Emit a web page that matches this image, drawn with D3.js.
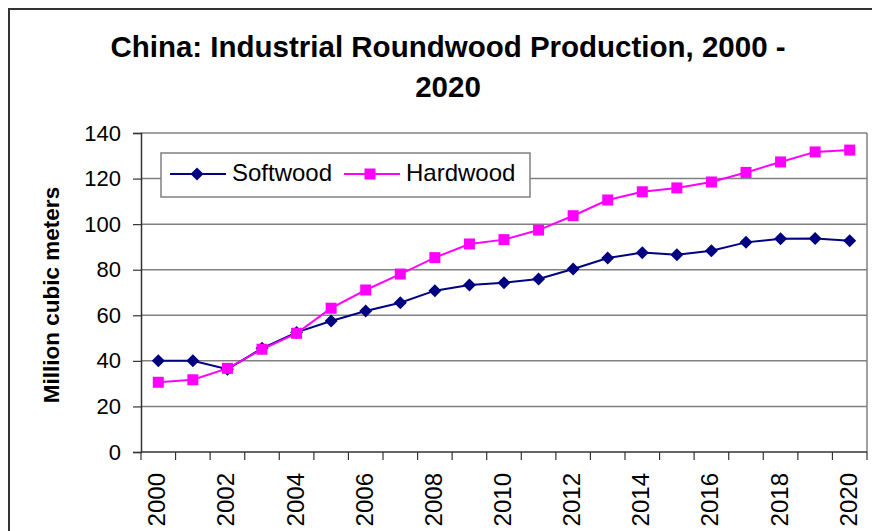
<!DOCTYPE html>
<html>
<head>
<meta charset="utf-8">
<script src="https://cdn.jsdelivr.net/npm/d3@7"></script>
<style>
  body { margin: 0; background: #fff; }
  svg { display: block; font-family: Arial, "Liberation Sans", sans-serif; }
</style>
</head>
<body>
<svg id="chart"></svg>
<script>
// chart data
const years = d3.range(2000, 2021);
const softwood = [40, 40, 36.3, 45.5, 52.5, 57.5, 61.9, 65.5, 70.8, 73.3, 74.3,
                  75.9, 80.3, 85.1, 87.5, 86.6, 88.3, 92.0, 93.6, 93.7, 92.7];
const hardwood = [30.6, 31.7, 36.7, 45.1, 52.1, 63.1, 71.1, 78.1, 85.3, 91.3, 93.2,
                  97.4, 103.7, 110.6, 114.2, 115.9, 118.5, 122.7, 127.3, 131.7, 132.5];
const y_ticks = [0, 20, 40, 60, 80, 100, 120, 140];
const x_labels = [2000, 2002, 2004, 2006, 2008, 2010, 2012, 2014, 2016, 2018, 2020];
const series_names = ["Softwood", "Hardwood"];

const width = 872, height = 531;
const plot = {left: 141, right: 867, top: 133, bottom: 452};

const svg = d3.select("#chart")
    .attr("width", width)
    .attr("height", height);

// outer frame
svg.append("rect")
    .attr("x", 9).attr("y", 9)
    .attr("width", width).attr("height", height)
    .attr("fill", "none")
    .attr("stroke", "#333")
    .attr("stroke-width", 2);

// title
const title = svg.append("text")
    .attr("text-anchor", "middle")
    .attr("font-weight", "bold")
    .attr("font-size", 29.5)
    .attr("fill", "#000");
title.append("tspan").attr("x", 448).attr("y", 57).text("China: Industrial Roundwood Production, 2000 -");
title.append("tspan").attr("x", 448).attr("y", 97).text("2020");

// scales
const x = d3.scaleBand()
    .domain(years)
    .range([plot.left, plot.right])
    .padding(0);
const y = d3.scaleLinear()
    .domain([0, 140])
    .range([plot.bottom, plot.top]);

// gridlines
svg.append("g")
    .selectAll("line")
    .data(y_ticks.filter(d => d > 0))
    .join("line")
    .attr("x1", plot.left).attr("x2", plot.right)
    .attr("y1", d => y(d)).attr("y2", d => y(d))
    .attr("stroke", "#808080")
    .attr("stroke-width", 1.5);

// plot area right border
svg.append("line")
    .attr("x1", plot.right).attr("x2", plot.right)
    .attr("y1", plot.top).attr("y2", plot.bottom)
    .attr("stroke", "#808080")
    .attr("stroke-width", 1.5);

// y axis
const y_axis = svg.append("g")
    .attr("transform", `translate(${plot.left},0)`)
    .call(d3.axisLeft(y).tickValues(y_ticks).tickSize(8).tickPadding(12));
y_axis.select(".domain").attr("stroke", "#333").attr("stroke-width", 1.5);
y_axis.selectAll(".tick line").attr("stroke", "#333").attr("stroke-width", 1.2);
y_axis.selectAll(".tick text")
    .attr("font-size", 22)
    .attr("font-family", "Arial, 'Liberation Sans', sans-serif")
    .attr("fill", "#000");

// x axis: ticks at category boundaries
const boundaries = d3.range(years.length + 1).map(i => plot.left + i * x.bandwidth());
svg.append("g")
    .selectAll("line")
    .data(boundaries)
    .join("line")
    .attr("x1", d => d).attr("x2", d => d)
    .attr("y1", plot.bottom).attr("y2", plot.bottom + 8)
    .attr("stroke", "#333")
    .attr("stroke-width", 1.2);
svg.append("line")
    .attr("x1", plot.left).attr("x2", plot.right)
    .attr("y1", plot.bottom).attr("y2", plot.bottom)
    .attr("stroke", "#333")
    .attr("stroke-width", 1.5);

svg.append("g")
    .selectAll("text")
    .data(x_labels)
    .join("text")
    .attr("transform", d => `translate(${x(d) + x.bandwidth() / 2 + 7},473) rotate(-90)`)
    .attr("text-anchor", "end")
    .attr("font-size", 24)
    .attr("fill", "#000")
    .text(d => d);

// y axis title
svg.append("text")
    .attr("transform", "translate(59,295) rotate(-90)")
    .attr("text-anchor", "middle")
    .attr("font-weight", "bold")
    .attr("font-size", 22.5)
    .attr("fill", "#000")
    .text("Million cubic meters");

// lines
const line = d3.line()
    .x((d, i) => x(years[i]) + x.bandwidth() / 2)
    .y(d => y(d));

svg.append("path")
    .attr("d", line(softwood))
    .attr("fill", "none")
    .attr("stroke", "#000080")
    .attr("stroke-width", 2);
svg.append("path")
    .attr("d", line(hardwood))
    .attr("fill", "none")
    .attr("stroke", "#ff00ff")
    .attr("stroke-width", 2);

svg.append("g")
    .selectAll("path")
    .data(softwood)
    .join("path")
    .attr("d", "M0,-6.5L6.5,0L0,6.5L-6.5,0Z")
    .attr("transform", (d, i) => `translate(${x(years[i]) + x.bandwidth() / 2},${y(d)})`)
    .attr("fill", "#000080");

svg.append("g")
    .selectAll("rect")
    .data(hardwood)
    .join("rect")
    .attr("x", (d, i) => x(years[i]) + x.bandwidth() / 2 - 5.5)
    .attr("y", d => y(d) - 5.5)
    .attr("width", 11).attr("height", 11)
    .attr("fill", "#ff00ff");

// legend
const legend = svg.append("g");
legend.append("rect")
    .attr("x", 161).attr("y", 153)
    .attr("width", 369).attr("height", 44)
    .attr("fill", "#fff")
    .attr("stroke", "#808080")
    .attr("stroke-width", 1.5);

// softwood entry
legend.append("line")
    .attr("x1", 170).attr("x2", 226).attr("y1", 174).attr("y2", 174)
    .attr("stroke", "#000080").attr("stroke-width", 2);
legend.append("path")
    .attr("d", "M0,-6.5L6.5,0L0,6.5L-6.5,0Z")
    .attr("transform", "translate(197,174)")
    .attr("fill", "#000080");
legend.append("text")
    .attr("x", 232).attr("y", 181)
    .attr("font-size", 24)
    .text(series_names[0]);

// hardwood entry
legend.append("line")
    .attr("x1", 344).attr("x2", 400).attr("y1", 174).attr("y2", 174)
    .attr("stroke", "#ff00ff").attr("stroke-width", 2);
legend.append("rect")
    .attr("x", 364.5).attr("y", 168.5)
    .attr("width", 11).attr("height", 11)
    .attr("fill", "#ff00ff");
legend.append("text")
    .attr("x", 406).attr("y", 181)
    .attr("font-size", 24)
    .text(series_names[1]);
</script>
</body>
</html>
